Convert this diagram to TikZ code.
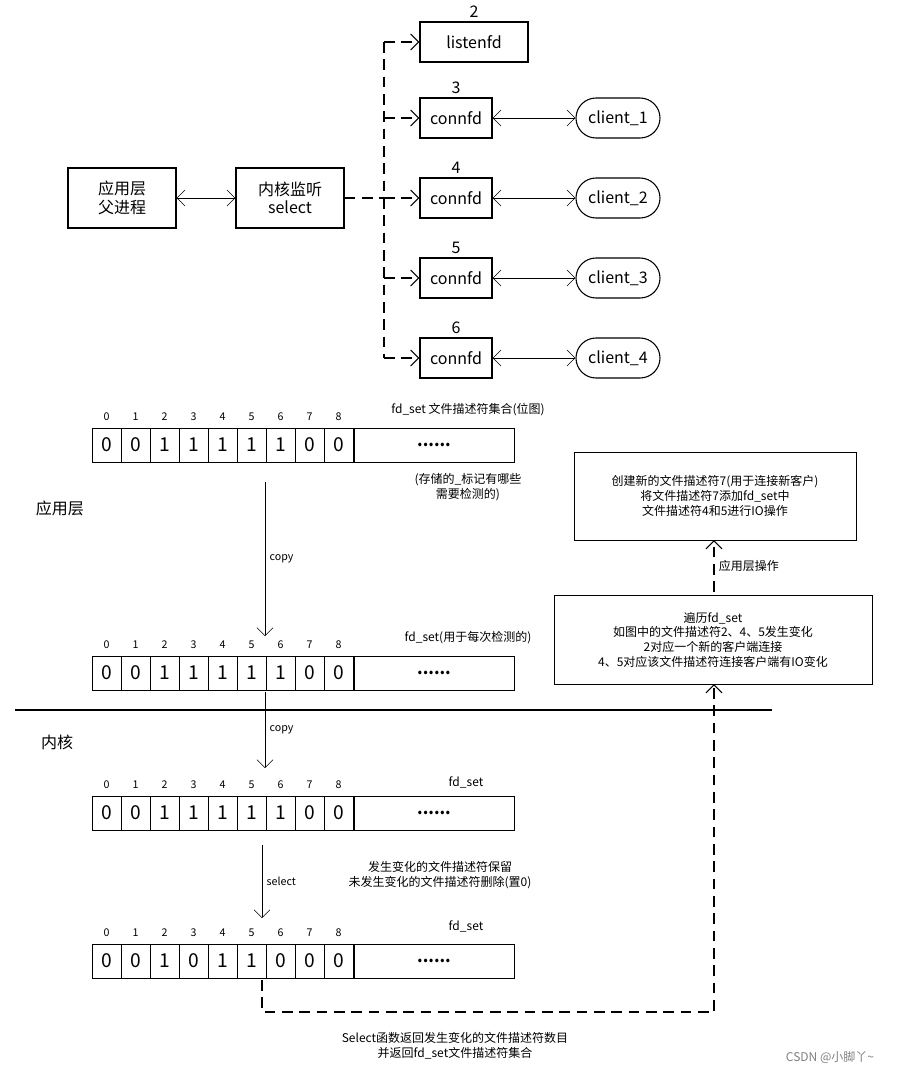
\documentclass[tikz,border=0pt]{standalone}
\usepackage{fontspec}
\setmainfont{Noto Sans CJK SC}
\usetikzlibrary{arrows.meta}
\begin{document}
\begin{tikzpicture}[x=0.75pt,y=-0.75pt,
 box/.style={draw,thick,minimum width=#1*0.75pt,minimum height=30pt,inner sep=0pt,align=center,font=\large},
 cli/.style={draw,thick,rounded corners=15pt,minimum width=63pt,minimum height=30pt,inner sep=0pt,font=\large},
 dsh/.style={thick,dash pattern=on 8pt off 5pt},
 arr/.style={-{Straight Barb[length=6pt]}},
 darr/.style={{Straight Barb[length=6pt]}-{Straight Barb[length=6pt]}},
 lab/.style={font=\small,align=center},
 idx/.style={font=\footnotesize},
 cell/.style={draw,minimum width=21.75pt,minimum height=25.5pt,inner sep=0pt,font=\Large},
]
\useasboundingbox (0,0) rectangle (907,1079);
\node[box=108,minimum height=45pt] (app) at (122,198) {应用层\\父进程};
\node[box=108,minimum height=45pt] (sel) at (290,198) {内核监听\\select};
\draw[darr] (app) -- (sel);
\coordinate (t0) at (384,198);
\coordinate (tt) at (384,42);
\coordinate (tb) at (384,358);
\draw[dsh] (sel.east) -- (t0);
\draw[dsh] (tt) -- (tb);
\node[box=108] (lf) at (474,42) {listenfd};
\node[font=\large] (l2) at (474,12) {2};
\draw[dsh,arr] (tt) -- (lf);
\foreach \y/\n/\k in {118/3/1,198/4/2,278/5/3,358/6/4}{
 \node[box=72] (c\k) at (456,\y) {connfd};
 \node[font=\large] (n\k) at (456,\y-30) {\n};
 \node[cli] (cl\k) at (618,\y) {client\_\k};
 \coordinate (b\k) at (384,\y);
 \draw[dsh,arr] (b\k) -- (c\k);
 \draw[darr] (c\k) -- (cl\k);
}
% bit arrays
\foreach \r/\y/\bits in {A/445/{0,0,1,1,1,1,1,0,0},B/673/{0,0,1,1,1,1,1,0,0},C/813/{0,0,1,1,1,1,1,0,0},D/961/{0,0,1,0,1,1,0,0,0}}{
 \foreach \b [count=\i from 0] in \bits {
  \node[cell] (\r\i) at (106.5+29*\i,\y) {\b};
  \node[idx] (\r i\i) at (106.5+29*\i,\y-28) {\i};
 }
 \node[draw,minimum width=120pt,minimum height=25.5pt,inner sep=0pt,font=\large\bfseries] (\r x) at (434,\y) {......};
}
\node[lab] (t1) at (468,410) {fd\_set 文件描述符集合(位图)};
\node[lab] (t2) at (468,487) {(存储的\_标记有哪些\\需要检测的)};
\node[font=\large] (t3) at (60,508) {应用层};
\node[lab] (t4) at (468,638) {fd\_set(用于每次检测的)};
\node[font=\large] (t5) at (57,742) {内核};
\node[lab] (t6) at (466,782) {fd\_set};
\node[lab] (t7) at (466,926) {fd\_set};
\coordinate (a1) at (265,482); \coordinate (a2) at (265,636);
\draw[arr] (a1) -- node[right,font=\footnotesize]{copy} (a2);
\coordinate (a3) at (265,692); \coordinate (a4) at (265,768);
\draw[arr] (a3) -- node[right,font=\footnotesize]{copy} (a4);
\coordinate (a5) at (262,845); \coordinate (a6) at (262,918);
\draw[arr] (a5) -- node[right,font=\footnotesize]{select} (a6);
\node[lab] (t8) at (440,875) {发生变化的文件描述符保留\\未发生变化的文件描述符删除(置0)};
\coordinate (h1) at (15,710); \coordinate (h2) at (772,710);
\draw[thick] (h1) -- (h2);
\node[draw,minimum width=211.5pt,minimum height=66pt,align=center,font=\small] (rb1) at (715,496) {创建新的文件描述符7(用于连接新客户)\\将文件描述符7添加fd\_set中\\文件描述符4和5进行IO操作};
\node[draw,minimum width=238.5pt,minimum height=66.75pt,align=center,font=\small] (rb2) at (713,639.5) {遍历fd\_set\\如图中的文件描述符2、4、5发生变化\\2对应一个新的客户端连接\\4、5对应该文件描述符连接客户端有IO变化};
\coordinate (q1) at (714,592);
\draw[dsh,arr] (q1) -- node[right,font=\small]{应用层操作} (714,540);
\coordinate (p1) at (262,980); \coordinate (p2) at (262,1012); \coordinate (p3) at (714,1012); \coordinate (p4) at (714,684);
\draw[dsh,arr] (p1) -- (p2) -- (p3) -- (p4);
\node[lab] (t9) at (455,1046) {Select函数返回发生变化的文件描述符数目\\并返回fd\_set文件描述符集合};
\node[font=\small,text=gray] (wm) at (830,1058) {CSDN @小脚丫\textasciitilde};
\end{tikzpicture}
\end{document}
